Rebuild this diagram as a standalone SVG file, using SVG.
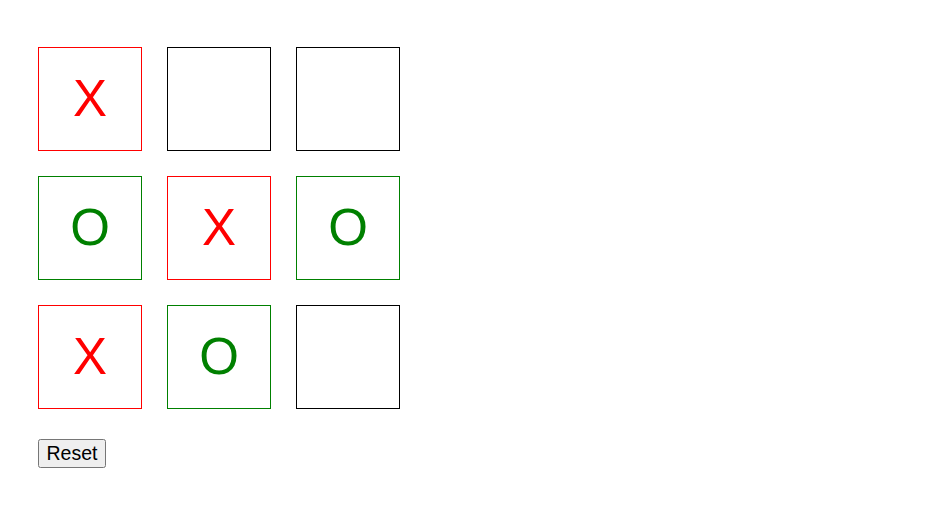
<svg xmlns="http://www.w3.org/2000/svg" width="945" height="531" viewBox="0 0 945 531">
<style>
.cell{fill:#fff;stroke-width:1}
.e{stroke:#000}
.x{stroke:#f00}
.o{stroke:#008000}
.t{font-family:"Liberation Sans",Arial,sans-serif;font-size:51px;text-anchor:middle}
.tx{fill:#f00}
.to{fill:#008000}
.btn{fill:#efefef;stroke:#767676;stroke-width:1}
.bt{font-family:"Liberation Sans",Arial,sans-serif;font-size:19.5px;fill:#000;text-anchor:middle}
</style>
<rect width="945" height="531" fill="#fff"/>
<g id="cell-0-0"><rect class="cell x" x="38.5" y="47.5" width="103" height="103"/><text class="t tx" x="90" y="116">X</text></g>
<g id="cell-0-1"><rect class="cell e" x="167.5" y="47.5" width="103" height="103"/></g>
<g id="cell-0-2"><rect class="cell e" x="296.5" y="47.5" width="103" height="103"/></g>
<g id="cell-1-0"><rect class="cell o" x="38.5" y="176.5" width="103" height="103"/><text class="t to" x="90" y="245">O</text></g>
<g id="cell-1-1"><rect class="cell x" x="167.5" y="176.5" width="103" height="103"/><text class="t tx" x="219" y="245">X</text></g>
<g id="cell-1-2"><rect class="cell o" x="296.5" y="176.5" width="103" height="103"/><text class="t to" x="348" y="245">O</text></g>
<g id="cell-2-0"><rect class="cell x" x="38.5" y="305.5" width="103" height="103"/><text class="t tx" x="90" y="374">X</text></g>
<g id="cell-2-1"><rect class="cell o" x="167.5" y="305.5" width="103" height="103"/><text class="t to" x="219" y="374">O</text></g>
<g id="cell-2-2"><rect class="cell e" x="296.5" y="305.5" width="103" height="103"/></g>
<g id="reset"><rect class="btn" x="38.5" y="439.5" width="67" height="28" rx="2"/><text class="bt" x="72" y="459.5">Reset</text></g>
<g id="connectors"/>
</svg>
